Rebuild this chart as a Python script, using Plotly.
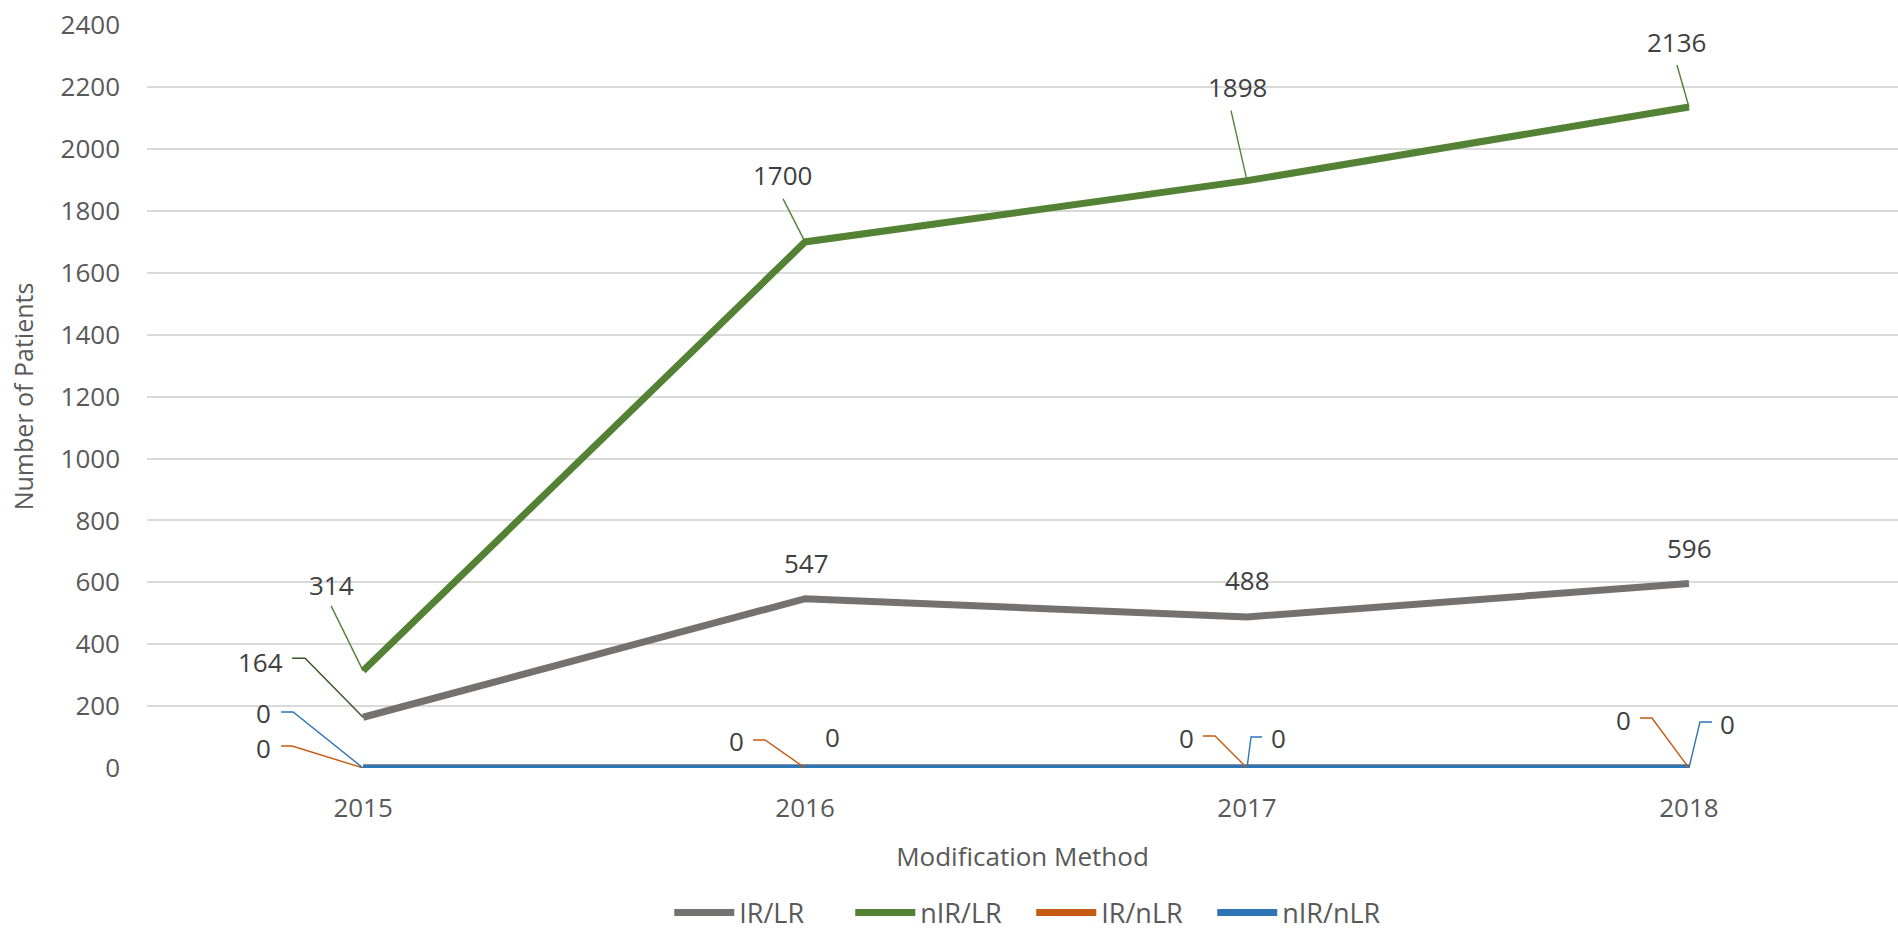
import plotly.graph_objects as go

years = ["2015", "2016", "2017", "2018"]
series_names = ["IR/LR", "nIR/LR", "IR/nLR", "nIR/nLR"]
ir_lr = [164, 547, 488, 596]
nir_lr = [314, 1700, 1898, 2136]
ir_nlr = [0, 0, 0, 0]
nir_nlr = [0, 0, 0, 0]
y_ticks = list(range(0, 2401, 200))

colors = {"IR/LR": "#767171", "nIR/LR": "#548235", "IR/nLR": "#C55A11", "nIR/nLR": "#2E75B6"}
values = {"IR/LR": ir_lr, "nIR/LR": nir_lr, "IR/nLR": ir_nlr, "nIR/nLR": nir_nlr}
xpos = list(range(len(years)))

# label placement (pixel offsets from the point; positive dy = up) and leader paths
label_style = {
    "IR/LR": [(-103, 55, [(0, 0), (-58, 59), (-71, 59)], "#375623"),
              (1, 36, None, None), (0, 37, None, None), (1, 36, None, None)],
    "nIR/LR": [(-32, 86, [(0, 0), (-32, 65)], "#548235"),
               (-23, 67, [(0, 0), (-22, 43)], "#548235"),
               (-10, 94, [(0, 0), (-16, 70)], "#548235"),
               (-12, 65, [(0, 0), (-12, 42)], "#548235")],
    "IR/nLR": [(-100, 20, [(0, 0), (-71, 22), (-82, 22)], "#C55A11"),
               (-69, 27, [(0, 0), (-40, 28), (-52, 28)], "#C55A11"),
               (-61, 30, [(0, 0), (-32, 32), (-44, 32)], "#C55A11"),
               (-65, 48, [(0, 0), (-37, 50), (-49, 50)], "#C55A11")],
    "nIR/nLR": [(-100, 55, [(0, 0), (-70, 56), (-82, 56)], "#2E75B6"),
                (27, 31, None, None),
                (31, 30, [(0, 0), (4, 31), (15, 31)], "#2E75B6"),
                (39, 44, [(0, 0), (11, 46), (23, 46)], "#2E75B6")],
}

FONT = "Open Sans"
fig = go.Figure()
for name in series_names:
    fig.add_trace(go.Scatter(
        x=xpos, y=values[name], name=name, mode="lines",
        line=dict(color=colors[name], width=7),
    ))

annotations = []
shapes = []
for name in series_names:
    for i, xp in enumerate(xpos):
        v = values[name][i]
        dx, dy, path, lc = label_style[name][i]
        annotations.append(dict(
            x=xp, y=v, xref="x", yref="y", text=str(v), showarrow=False,
            xshift=dx, yshift=dy, xanchor="center", yanchor="middle",
            font=dict(family=FONT, size=26, color="#404040"),
        ))
        if path:
            d = "M" + " L".join(f"{px},{py}" for px, py in path)
            shapes.append(dict(
                type="path", path=d, xref="x", yref="y",
                xsizemode="pixel", ysizemode="pixel", xanchor=xp, yanchor=v,
                line=dict(color=lc, width=1.4), layer="above",
            ))

fig.update_layout(
    width=1898, height=932,
    margin=dict(l=147, r=0, t=25, b=164, autoexpand=False),
    paper_bgcolor="white", plot_bgcolor="white",
    font=dict(family=FONT, color="#595959"),
    showlegend=True,
    legend=dict(orientation="h", x=0.505, xanchor="center", y=-0.195, yanchor="middle",
                font=dict(family=FONT, size=27, color="#595959"), itemwidth=60,
                entrywidth=106, traceorder="normal"),
    annotations=annotations, shapes=shapes,
    xaxis=dict(range=[-0.489, 3.473], tickvals=xpos, ticktext=years, showgrid=False,
               zeroline=False, showline=False, ticks="", automargin=False,
               tickfont=dict(family=FONT, size=26, color="#595959"),
               ticklabelstandoff=22,
               title=dict(text="Modification Method", font=dict(family=FONT, size=26, color="#595959"),
                          standoff=23)),
    yaxis=dict(range=[0, 2401], tickvals=y_ticks, showgrid=True, gridcolor="#D9D9D9", gridwidth=2,
               zeroline=False, showline=False, ticks="", automargin=False,
               tickfont=dict(family=FONT, size=26, color="#595959"), ticklabelstandoff=26,
               title=dict(text="Number of Patients", font=dict(family=FONT, size=25, color="#595959"),
                          standoff=19)),
)
fig.write_html("out.html", config={"displayModeBar": False},
               post_script="document.body.style.margin='0';document.body.style.overflow='hidden';")
